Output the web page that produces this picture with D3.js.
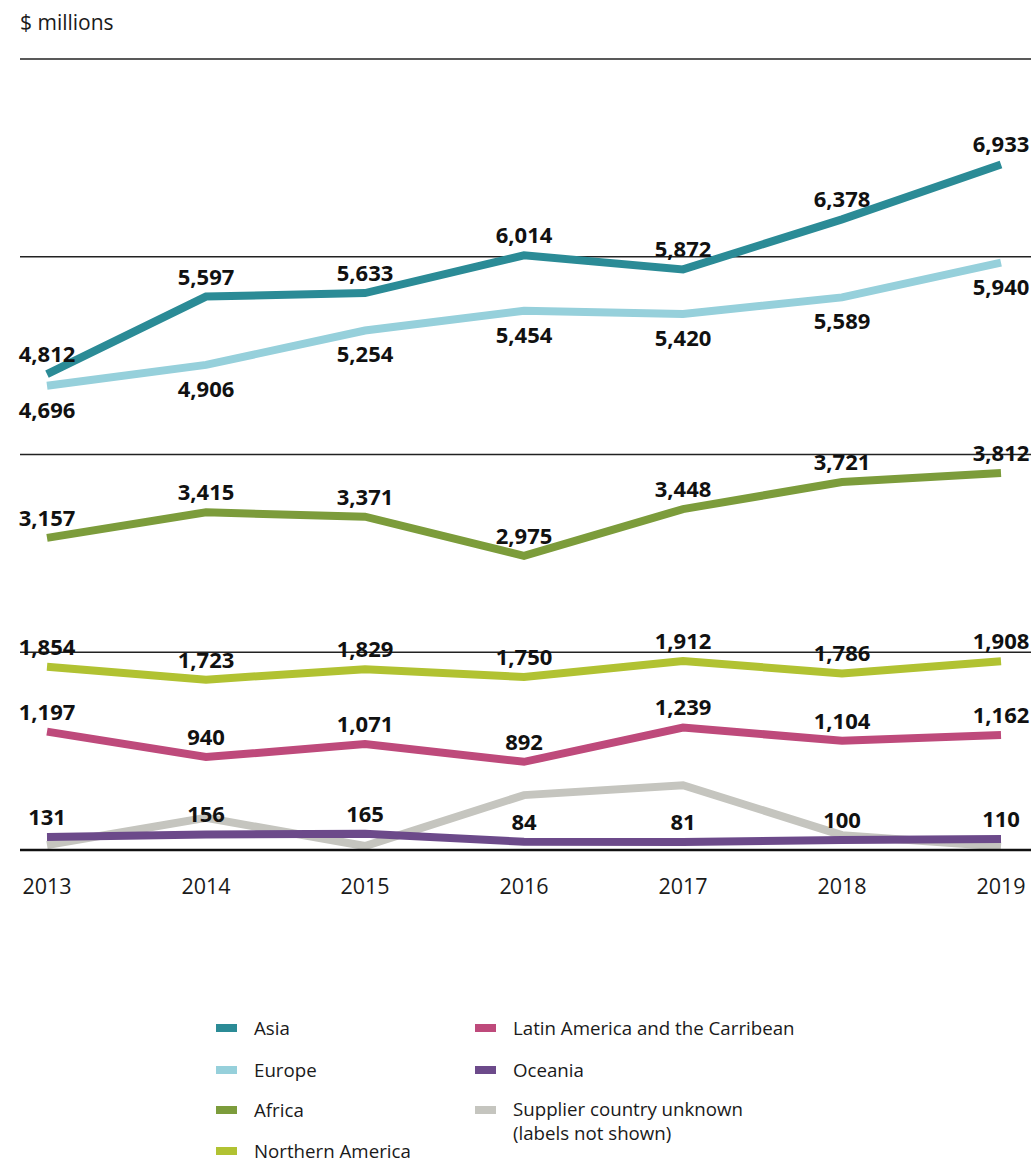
<!DOCTYPE html>
<html><head><meta charset="utf-8">
<script src="https://cdn.jsdelivr.net/npm/d3@7"></script>
<style>
body{margin:0;background:#fff;}
svg{display:block;font-family:"Open Sans",sans-serif;}
</style></head>
<body>
<svg id="c" width="1036" height="1162"></svg>
<script>
const years = [2013, 2014, 2015, 2016, 2017, 2018, 2019];
const yTicks = [0, 2000, 4000, 6000, 8000];
const asia = [4812, 5597, 5633, 6014, 5872, 6378, 6933];
const europe = [4696, 4906, 5254, 5454, 5420, 5589, 5940];
const africa = [3157, 3415, 3371, 2975, 3448, 3721, 3812];
const northernAmerica = [1854, 1723, 1829, 1750, 1912, 1786, 1908];
const latinAmerica = [1197, 940, 1071, 892, 1239, 1104, 1162];
const oceania = [131, 156, 165, 84, 81, 100, 110];
const unknown = [50, 325, 40, 555, 655, 150, 35];

const series = [
  {name:"Supplier country unknown", sub:"(labels not shown)", values:unknown, color:"#c5c5bf", label:null},
  {name:"Oceania", values:oceania, color:"#6c4a8a", label:"above"},
  {name:"Latin America and the Carribean", values:latinAmerica, color:"#be4a7b", label:"above"},
  {name:"Northern America", values:northernAmerica, color:"#b1c232", label:"above"},
  {name:"Africa", values:africa, color:"#7c9c3b", label:"above"},
  {name:"Europe", values:europe, color:"#96d0db", label:"below"},
  {name:"Asia", values:asia, color:"#2b8b96", label:"above"}
];

const svg = d3.select("#c");
const x = d3.scalePoint().domain(years).range([47, 1001]);
const y = d3.scaleLinear().domain([0, 8000]).range([850, 59]);

svg.append("text").attr("x",20).attr("y",30).attr("font-size",21).attr("fill","#1a1a1a").text("$ millions");

// gridlines
svg.append("g").selectAll("line").data(yTicks.filter(d=>d>0)).join("line")
  .attr("x1",20).attr("x2",1031).attr("y1",d=>y(d)).attr("y2",d=>y(d))
  .attr("stroke","#222").attr("stroke-width",1.5);

const line = d3.line().x((d,i)=>x(years[i])).y(d=>y(d));
svg.append("g").selectAll("path").data(series).join("path")
  .attr("d",d=>line(d.values)).attr("fill","none")
  .attr("stroke",d=>d.color).attr("stroke-width",8).attr("stroke-linejoin","miter").attr("stroke-linecap","butt");

// baseline
svg.append("line").attr("x1",20).attr("x2",1031).attr("y1",y(0)).attr("y2",y(0))
  .attr("stroke","#111").attr("stroke-width",2.5);

// value labels
const lg = svg.append("g");
series.filter(s=>s.label).forEach(s=>{
  lg.selectAll(null).data(s.values).join("text")
    .attr("x",(d,i)=>x(years[i]))
    .attr("y",d=>y(d) + (s.label==="above" ? -20 : 24))
    .attr("dy","0.36em")
    .attr("text-anchor","middle").attr("font-size",22).attr("font-weight",700).attr("fill","#111")
    .text(d=>d3.format(",")(d));
});

// x axis labels
svg.append("g").selectAll("text").data(years).join("text")
  .attr("x",d=>x(d)).attr("y",886).attr("dy","0.36em").attr("text-anchor","middle")
  .attr("font-size",21.5).attr("fill","#1a1a1a").text(d=>d);

// legend
const legendOrder = [
  ["Asia",216,1028],["Europe",216,1070],["Africa",216,1110],["Northern America",216,1151],
  ["Latin America and the Carribean",475,1028],["Oceania",475,1070],["Supplier country unknown",475,1110]
];
const lgd = svg.append("g");
legendOrder.forEach(([n,lx,ly])=>{
  const s = series.find(d=>d.name===n);
  lgd.append("rect").attr("x",lx).attr("y",ly-4).attr("width",21).attr("height",8).attr("fill",s.color);
  lgd.append("text").attr("x",lx+38).attr("y",ly - (s.sub ? 1 : 0)).attr("dy","0.36em").attr("font-size",18.7).attr("fill","#1a1a1a").text(n);
  if(s.sub) lgd.append("text").attr("x",lx+38).attr("y",ly+23).attr("dy","0.36em").attr("font-size",18.7).attr("fill","#1a1a1a").text(s.sub);
});
</script>
</body></html>
